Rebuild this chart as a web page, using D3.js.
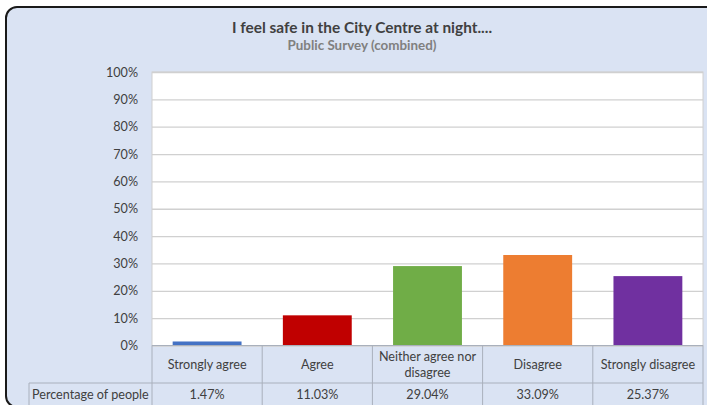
<!DOCTYPE html>
<html>
<head>
<meta charset="utf-8">
<script src="https://cdn.jsdelivr.net/npm/d3@7"></script>
<style>
  body { margin: 0; background: #fff; }
  text { font-family: Lato, "Open Sans", sans-serif; }
</style>
</head>
<body>
<div id="vis"></div>
<script>
// survey answers and share of people for each
var categories = ["Strongly agree", "Agree", "Neither agree nor disagree", "Disagree", "Strongly disagree"];
var values = [1.47, 11.03, 29.04, 33.09, 25.37];
var barColors = ["#4472c4", "#c00000", "#70ad47", "#ed7d31", "#7030a0"];
var yTicks = [0, 10, 20, 30, 40, 50, 60, 70, 80, 90, 100];
var rowLabel = "Percentage of people";
var title = "I feel safe in the City Centre at night....";
var subtitle = "Public Survey (combined)";

var width = 707, height = 405;
var fontSize = "12.6px";

var svg = d3.select("#vis")
  .append("svg")
  .attr("width", width)
  .attr("height", height);

// chart background with rounded frame (runs off the right/bottom edge)
svg.append("rect")
  .attr("x", 6).attr("y", 7)
  .attr("width", 716).attr("height", 400)
  .attr("rx", 11)
  .attr("fill", "#dae3f3")
  .attr("stroke", "#1a1a1a")
  .attr("stroke-width", 2);

svg.append("text")
  .attr("x", 362).attr("y", 33)
  .attr("text-anchor", "middle")
  .attr("font-size", "15.4px")
  .attr("font-weight", "bold")
  .attr("fill", "#404040")
  .text(title);

svg.append("text")
  .attr("x", 362).attr("y", 50)
  .attr("text-anchor", "middle")
  .attr("font-size", "13.4px")
  .attr("font-weight", "bold")
  .attr("fill", "#808080")
  .text(subtitle);

var plot = {left: 152, right: 703, top: 72, bottom: 345.5};

var x = d3.scaleBand()
  .domain(categories)
  .range([plot.left, plot.right])
  .paddingInner(0.375)
  .paddingOuter(0.1875);

var y = d3.scaleLinear()
  .domain([0, 100])
  .range([plot.bottom, plot.top]);

// plot area
svg.append("rect")
  .attr("x", plot.left).attr("y", plot.top)
  .attr("width", plot.right - plot.left)
  .attr("height", plot.bottom - plot.top)
  .attr("fill", "#fff")
  .attr("stroke", "#d0d0d0");

// gridlines
svg.append("g")
  .attr("transform", "translate(" + plot.left + ",0)")
  .call(d3.axisLeft(y).tickValues(yTicks).tickSize(-(plot.right - plot.left)).tickFormat(""))
  .call(function(g) {
    g.select(".domain").remove();
    g.selectAll("line").attr("stroke", "#d0d0d0").attr("stroke-width", 1.3);
  });

// y axis labels
svg.append("g")
  .attr("transform", "translate(" + (plot.left - 11) + ",0)")
  .call(d3.axisLeft(y).tickValues(yTicks).tickSize(0).tickFormat(function(d) { return d + "%"; }))
  .call(function(g) {
    g.select(".domain").remove();
    g.selectAll("text")
      .attr("font-size", fontSize)
      .attr("fill", "#404040")
      .style("font-family", "Lato, sans-serif");
  });

// bars
svg.selectAll(".bar")
  .data(values)
  .enter().append("rect")
  .attr("class", "bar")
  .attr("x", function(d, i) { return x(categories[i]); })
  .attr("y", function(d) { return y(d); })
  .attr("width", x.bandwidth())
  .attr("height", function(d) { return plot.bottom - y(d); })
  .attr("fill", function(d, i) { return barColors[i]; });

/* data table under the axis */
var step = x.step();
var cellLeft = function(i) { return x(categories[i]) - step * x.paddingInner() / 2; };
var headBottom = 383, rowBottom = 405, tableLeft = 29;
var lineColor = "#a9b0bc";

var table = svg.append("g");

// horizontal lines
table.append("line")
  .attr("x1", plot.left).attr("x2", plot.right)
  .attr("y1", plot.bottom).attr("y2", plot.bottom)
  .attr("stroke", lineColor);
table.append("line")
  .attr("x1", tableLeft).attr("x2", plot.right)
  .attr("y1", headBottom).attr("y2", headBottom)
  .attr("stroke", lineColor);

// vertical lines
table.append("line")
  .attr("x1", tableLeft).attr("x2", tableLeft)
  .attr("y1", headBottom).attr("y2", rowBottom)
  .attr("stroke", lineColor);
table.selectAll(".vline")
  .data(d3.range(categories.length + 1))
  .enter().append("line")
  .attr("class", "vline")
  .attr("x1", function(i) { return i < categories.length ? cellLeft(i) : plot.right; })
  .attr("x2", function(i) { return i < categories.length ? cellLeft(i) : plot.right; })
  .attr("y1", plot.bottom)
  .attr("y2", rowBottom)
  .attr("stroke", lineColor);

// category labels, wrapped to fit the cell
function wrapLines(label, maxW) {
  var words = label.split(" "), lines = [], cur = "";
  var probe = svg.append("text").attr("font-size", fontSize);
  words.forEach(function(w) {
    var test = cur ? cur + " " + w : w;
    probe.text(test);
    if (probe.node().getComputedTextLength() > maxW && cur) {
      lines.push(cur);
      cur = w;
    } else {
      cur = test;
    }
  });
  probe.remove();
  lines.push(cur);
  return lines;
}

categories.forEach(function(c, i) {
  var lines = wrapLines(c, step - 6);
  var cx = x(c) + x.bandwidth() / 2;
  var midY = (plot.bottom + headBottom) / 2 + 4.5;
  var t = table.append("text")
    .attr("text-anchor", "middle")
    .attr("font-size", fontSize)
    .attr("fill", "#404040");
  lines.forEach(function(l, k) {
    t.append("tspan")
      .attr("x", cx)
      .attr("y", midY + (k - (lines.length - 1) / 2) * 15.5)
      .text(l);
  });

  table.append("text")
    .attr("x", cx)
    .attr("y", 399)
    .attr("text-anchor", "middle")
    .attr("font-size", fontSize)
    .attr("fill", "#404040")
    .text(values[i].toFixed(2) + "%");
});

table.append("text")
  .attr("x", tableLeft + 3)
  .attr("y", 399)
  .attr("font-size", fontSize)
  .attr("fill", "#404040")
  .text(rowLabel);
</script>
</body>
</html>
